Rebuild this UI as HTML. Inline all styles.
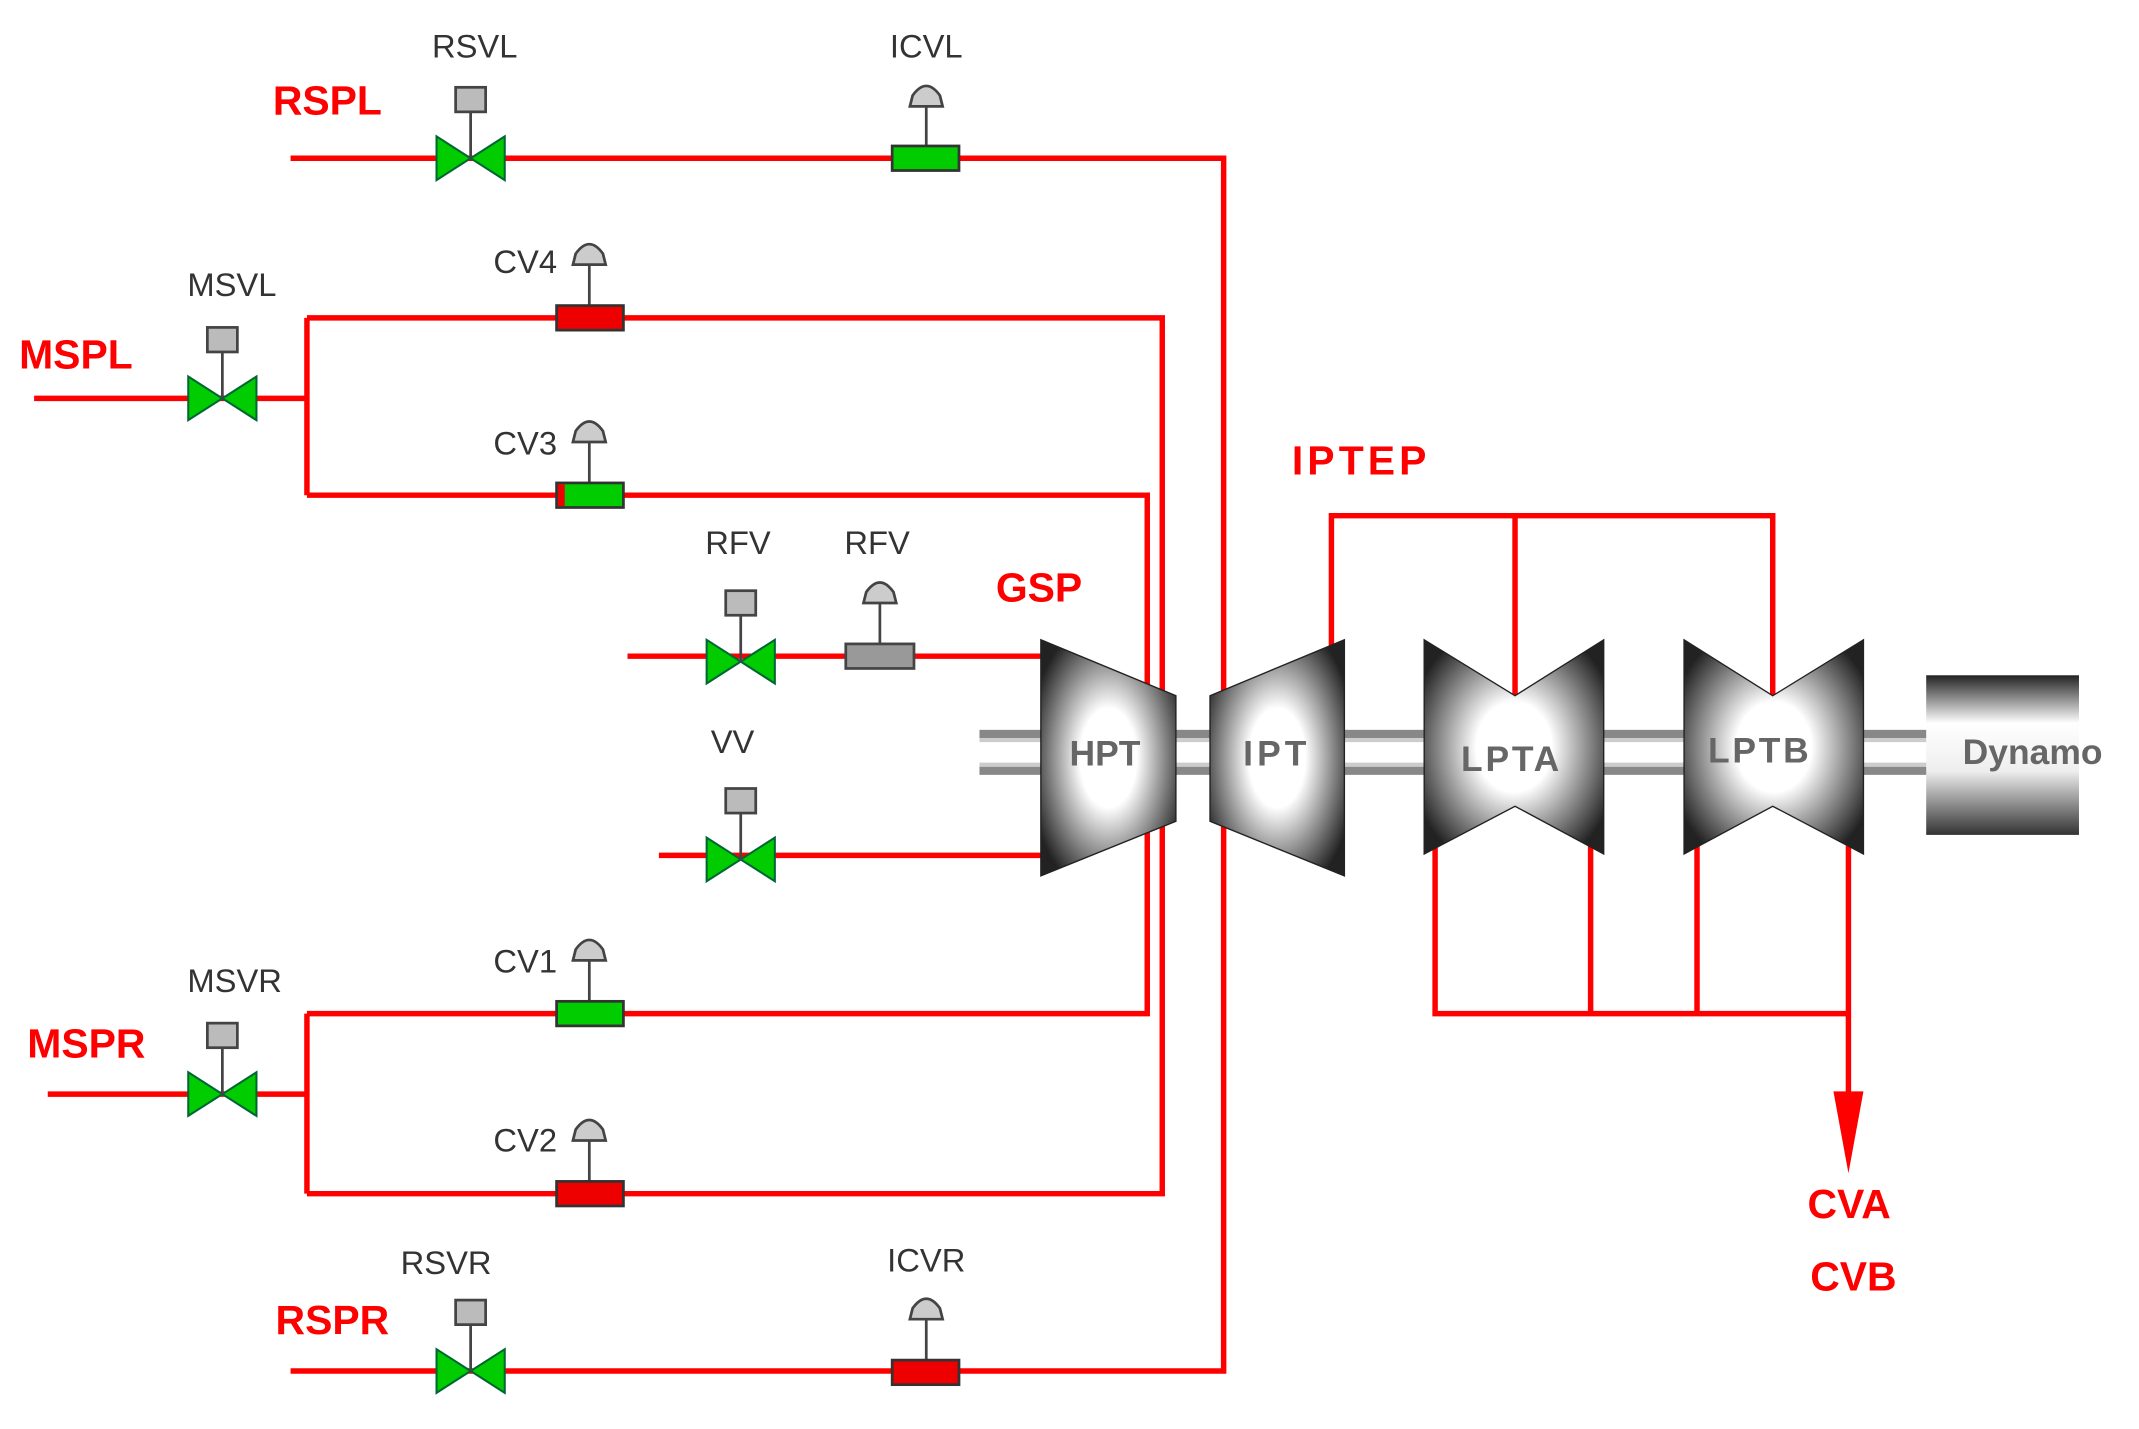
<!DOCTYPE html>
<html><head><meta charset="utf-8"><style>
html,body{margin:0;padding:0;background:#fff;width:2139px;height:1429px;overflow:hidden}
svg{display:block}
text{font-family:"Liberation Sans",sans-serif}
.lbl{font-size:24px;fill:#333}
.red{font-size:30px;fill:#f00;font-weight:bold}
.tl{font-size:26px;fill:#666;font-weight:bold}
</style></head><body>
<svg width="2139" height="1429" viewBox="0 0 1568 1047.5" preserveAspectRatio="none" xmlns="http://www.w3.org/2000/svg">
<defs>
<radialGradient id="met" cx="50%" cy="50%" r="60%">
<stop offset="0" stop-color="#fff"/><stop offset="0.35" stop-color="#fff"/><stop offset="0.7" stop-color="#888"/><stop offset="1" stop-color="#222"/>
</radialGradient>
<linearGradient id="dyn" x1="0" y1="0" x2="0" y2="1">
<stop offset="0" stop-color="#222"/><stop offset="0.3" stop-color="#fff"/><stop offset="0.6" stop-color="#eee"/><stop offset="1" stop-color="#333"/>
</linearGradient>
<g id="bow"><polygon points="-25,-16 0,0 -25,16" fill="#0c0" stroke="#063" stroke-width="1.5"/><polygon points="25,-16 0,0 25,16" fill="#0c0" stroke="#063" stroke-width="1.5"/><line x1="0" y1="0" x2="0" y2="-34" stroke="#444" stroke-width="2"/><rect x="-11" y="-52" width="22" height="18" fill="#bbb" stroke="#444" stroke-width="2"/></g>
<g id="dome"><line x1="0" y1="0" x2="0" y2="-30" stroke="#444" stroke-width="2"/><path d="M-12,-30 L-10,-38 Q0,-52 10,-38 L12,-30 Z" fill="#ccc" stroke="#444" stroke-width="2"/></g>
</defs>
<g stroke="#f00" stroke-width="4" fill="none">
<polyline points="213,116 897,116 897,1005 213,1005"/>
<polyline points="25,292 225,292"/>
<polyline points="225,233 225,363"/>
<polyline points="225,233 852,233 852,875 225,875"/>
<polyline points="225,363 841,363 841,743 225,743"/>
<polyline points="35,802 225,802"/>
<polyline points="225,743 225,875"/>
<polyline points="460,481 765,481"/>
<polyline points="483,627 765,627"/>
<polyline points="976,478 976,378 1299.5,378 1299.5,510"/>
<polyline points="1110.6,378 1110.6,510"/>
<polyline points="1052,620 1052,743 1355,743"/>
<polyline points="1166,600 1166,743"/>
<polyline points="1244,620 1244,743"/>
<polyline points="1355,620 1355,810"/>
</g>
<polygon points="1344,800 1366,800 1355,860" fill="#f00"/>
<g fill="#888">
<rect x="718" y="535" width="700" height="6"/><rect x="718" y="562" width="700" height="6"/>
</g>
<g fill="#ccc"><rect x="718" y="541" width="700" height="3"/><rect x="718" y="559" width="700" height="3"/></g>
<polygon points="763,469 862,510 862,602 763,642" fill="url(#met)" stroke="#222" stroke-width="1"/>
<polygon points="887,510 985.5,469 985.5,642 887,602" fill="url(#met)" stroke="#222" stroke-width="1"/>
<polygon points="1044,469 1110.6,510 1175.6,469 1175.6,626 1110.6,591 1044,626" fill="url(#met)" stroke="#222" stroke-width="1"/>
<polygon points="1234.5,469 1299.5,510 1366,469 1366,626 1299.5,591 1234.5,626" fill="url(#met)" stroke="#222" stroke-width="1"/>
<rect x="1412" y="495" width="112" height="117" fill="url(#dyn)"/>
<text class="tl" x="810" y="561" text-anchor="middle">HPT</text>
<text class="tl" x="936" y="561" text-anchor="middle" letter-spacing="3">IPT</text>
<text class="tl" x="1108" y="565" text-anchor="middle" letter-spacing="2">LPTA</text>
<text class="tl" x="1290" y="559" text-anchor="middle" letter-spacing="2">LPTB</text>
<text class="tl" x="1490" y="560" text-anchor="middle" font-size="24">Dynamo</text>
<use href="#bow" x="345" y="116"/>
<use href="#bow" x="163" y="292"/>
<use href="#bow" x="163" y="802"/>
<use href="#bow" x="345" y="1005"/>
<use href="#bow" x="543" y="485"/>
<use href="#bow" x="543" y="630"/>
<use href="#dome" x="679" y="108"/><rect x="654" y="107" width="49" height="18" fill="#0c0" stroke="#333" stroke-width="2"/>
<use href="#dome" x="432" y="224"/><rect x="408" y="224" width="49" height="18" fill="#e00" stroke="#333" stroke-width="2"/>
<use href="#dome" x="432" y="354"/><rect x="408" y="354" width="49" height="18" fill="#0c0" stroke="#333" stroke-width="2"/><rect x="409" y="355" width="5" height="16" fill="#e00"/>
<use href="#dome" x="645" y="472"/><rect x="620" y="472" width="50" height="18" fill="#999" stroke="#444" stroke-width="2"/>
<use href="#dome" x="432" y="734"/><rect x="408" y="734" width="49" height="18" fill="#0c0" stroke="#333" stroke-width="2"/>
<use href="#dome" x="432" y="866"/><rect x="408" y="866" width="49" height="18" fill="#e00" stroke="#333" stroke-width="2"/>
<use href="#dome" x="679" y="997"/><rect x="654" y="997" width="49" height="18" fill="#e00" stroke="#333" stroke-width="2"/>
<g class="lbl" text-anchor="middle">
<text x="348" y="42">RSVL</text><text x="679" y="42">ICVL</text>
<text x="170" y="217">MSVL</text><text x="385" y="200">CV4</text>
<text x="385" y="333">CV3</text><text x="541" y="406">RFV</text><text x="643" y="406">RFV</text>
<text x="537" y="552">VV</text><text x="172" y="727">MSVR</text><text x="385" y="713">CV1</text>
<text x="385" y="844">CV2</text><text x="327" y="934">RSVR</text><text x="679" y="932">ICVR</text>
</g>
<g class="red">
<text x="200" y="84">RSPL</text><text x="14" y="270">MSPL</text><text x="20" y="775">MSPR</text>
<text x="202" y="978">RSPR</text><text x="730" y="441">GSP</text>
<text x="947" y="348" letter-spacing="3">IPTEP</text>
<text x="1325" y="893">CVA</text><text x="1327" y="946">CVB</text>
</g>
</svg>
</body></html>
